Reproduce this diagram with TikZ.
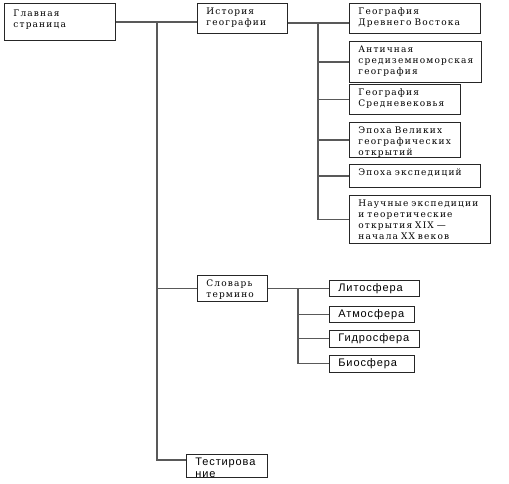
\documentclass[tikz,border=0pt]{standalone}
\usepackage{fontspec}
\setmainfont{DejaVu Serif}[LetterSpace=13, WordSpace=1.4]
\newfontfamily\arialfont{Liberation Sans}[LetterSpace=8, WordSpace=1.4]
\usetikzlibrary{calc}

\tikzset{
  box/.style 2 args={draw=black!85, line width=0.8pt, anchor=north west, align=left,
    inner xsep=9pt, inner ysep=2.5pt, text height=8.5pt, text width=#1, text depth=#2,
    font=\fontsize{9}{11}\selectfont},
  sbox/.style 2 args={box={#1}{#2}, inner ysep=2pt, text height=9pt,
    font=\arialfont\fontsize{11}{12}\selectfont},
  link/.style={draw=black!65, line width=1.1pt}
}

\begin{document}
\begin{tikzpicture}[x=1pt, y=-1pt]
    \useasboundingbox (0,0) rectangle (509,483);

    % Main page and sections
    \node[box={93pt}{21.7pt}, text height=10.5pt] (main) at (4,3) {Главная\\страница};
    \node[box={72pt}{16.7pt}] (hist) at (197,3) {История\\географии};
    \node[box={52pt}{12.7pt}] (dict) at (197,275) {Словарь\\термино};
    \node[sbox={63pt}{10pt}] (test) at (186,454) {Тестирова\\ние};

    % History of geography
    \node[box={113pt}{16.7pt}] (east) at (349,3) {География\\Древнего Востока};
    \node[box={114pt}{27.7pt}] (antiq) at (349,41) {Античная\\средиземноморская\\география};
    \node[box={93pt}{16.7pt}] (medv) at (349,84) {География\\Средневековья};
    \node[box={93pt}{21.7pt}] (great) at (349,122) {Эпоха Великих\\географических\\открытий};
    \node[box={113pt}{9.7pt}] (exped) at (349,164) {Эпоха экспедиций};
    \node[box={123pt}{34.7pt}] (sci) at (349,195) {Научные экспедиции\\и теоретические\\открытия XIX —\\начала XX веков};

    % Glossary
    \node[sbox={72pt}{3pt}] (litho) at (329,280) {Литосфера};
    \node[sbox={67pt}{3pt}] (atmo) at (329,306) {Атмосфера};
    \node[sbox={72pt}{4pt}] (hydro) at (329,330) {Гидросфера};
    \node[sbox={67pt}{4pt}] (bio) at (329,355) {Биосфера};

    % Main trunk
    \coordinate (m1) at (157,23);
    \coordinate (m2) at (157,460);
    \draw[link] (main.east) -- (main.east -| hist.west);
    \draw[link] (m1) -- (m2) -- (m2 -| test.west);
    \draw[link] (m1 |- dict.west) -- (dict.west);

    % History trunk
    \coordinate (h1) at (318,23);
    \draw[link] (h1 -| hist.east) -- (h1 -| east.west);
    \draw[link] (h1) -- (h1 |- sci.west);
    \foreach \n in {antiq, medv, great, exped, sci}
        \draw[link] (h1 |- \n.west) -- (\n.west);

    % Glossary trunk
    \coordinate (d1) at (298,288);
    \draw[link] (dict.east) -- (dict.east -| litho.west);
    \draw[link] (d1) -- (d1 |- bio.west);
    \foreach \n in {atmo, hydro, bio}
        \draw[link] (d1 |- \n.west) -- (\n.west);
\end{tikzpicture}
\end{document}
